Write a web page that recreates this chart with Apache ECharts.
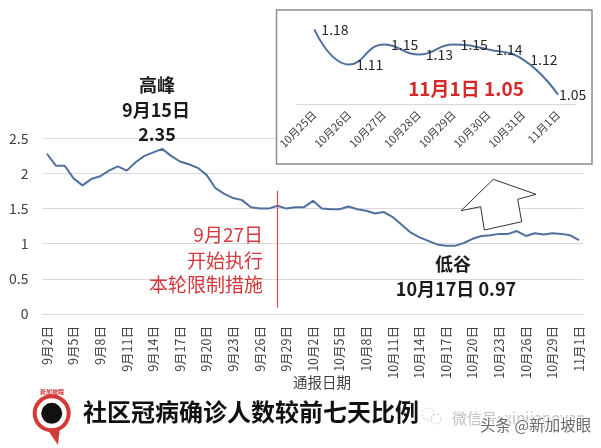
<!DOCTYPE html>
<html><head><meta charset="utf-8">
<script src="https://cdn.jsdelivr.net/npm/echarts/dist/echarts.min.js"></script>
<style>html,body{margin:0;padding:0;background:#fff}#c{width:601px;height:448px}</style>
</head><body><div id="c"></div>
<script>
var categories = ['9月2日','9月3日','9月4日','9月5日','9月6日','9月7日','9月8日','9月9日','9月10日','9月11日','9月12日','9月13日','9月14日','9月15日','9月16日','9月17日','9月18日','9月19日','9月20日','9月21日','9月22日','9月23日','9月24日','9月25日','9月26日','9月27日','9月28日','9月29日','9月30日',
'10月1日','10月2日','10月3日','10月4日','10月5日','10月6日','10月7日','10月8日','10月9日','10月10日','10月11日','10月12日','10月13日','10月14日','10月15日','10月16日','10月17日','10月18日','10月19日','10月20日','10月21日','10月22日','10月23日','10月24日','10月25日','10月26日','10月27日','10月28日','10月29日','10月30日','10月31日','11月1日'];
var ratioValues = [2.28,2.11,2.11,1.93,1.83,1.92,1.96,2.04,2.10,2.04,2.16,2.25,2.30,2.35,2.25,2.17,2.13,2.08,1.98,1.79,1.71,1.65,1.62,1.52,1.50,1.50,1.54,1.50,1.52,
1.52,1.61,1.50,1.49,1.49,1.53,1.49,1.47,1.43,1.45,1.38,1.27,1.16,1.09,1.04,0.99,0.97,0.97,1.01,1.07,1.11,1.12,1.14,1.14,1.18,1.11,1.15,1.13,1.15,1.14,1.12,1.05];
var insetCategories = ['10月25日','10月26日','10月27日','10月28日','10月29日','10月30日','10月31日','11月1日'];
var insetValues = [1.18,1.11,1.15,1.13,1.15,1.14,1.12,1.05];
var yTicks = [0,0.5,1,1.5,2,2.5];

var FONT = '"Noto Sans CJK SC","Noto Sans",sans-serif';
var LINE = '#50709f';
var RED = '#d2373c';

var chart = echarts.init(document.getElementById('c'), null, {renderer:'canvas'});
var insetData = insetValues.map(function(v,i){
  return i === insetValues.length-1 ? {value:v, label:{distance:1}} : v;
});
function txt(x,y,text,size,opts){
  opts = opts || {};
  return {type:'text', x:x, y:y, z:50, silent:true, style:{
    text:text, fontSize:size, fontFamily:FONT, fontWeight:opts.bold?'bold':'normal',
    fill:opts.color||'#1a1a1a', align:opts.align||'center', verticalAlign:'middle',
    stroke:opts.stroke||null, lineWidth:opts.lw||0}};
}
chart.setOption({
  animation:false,
  textStyle:{fontFamily:FONT},
  grid:[
    {left:42.5, right:17.5, top:138.3, bottom:134, outerBoundsMode:'none', containLabel:false},
    {left:296.9, right:25.6, top:19.4, bottom:343.3, outerBoundsMode:'none', containLabel:false, z:10}
  ],
  xAxis:[
    {type:'category', data:categories, boundaryGap:true, gridIndex:0,
     axisLine:{show:true, lineStyle:{color:'#d9d9d9', width:1}}, axisTick:{show:false},
     axisLabel:{interval:2, rotate:90, fontSize:12.5, margin:12, color:'#404040', fontFamily:FONT}},
    {type:'category', data:insetCategories, boundaryGap:true, gridIndex:1, z:10,
     axisLine:{show:true, lineStyle:{color:'#d9d9d9', width:1}}, axisTick:{show:false},
     axisLabel:{interval:0, rotate:45, fontSize:11, margin:8, color:'#404040', fontFamily:FONT}}
  ],
  yAxis:[
    {type:'value', min:yTicks[0], max:yTicks[yTicks.length-1], interval:0.5, gridIndex:0,
     axisLine:{show:false}, axisTick:{show:false},
     splitLine:{show:true, lineStyle:{color:'#d9d9d9', width:1}},
     axisLabel:{fontSize:14, margin:14, color:'#404040', fontFamily:FONT}},
    {type:'value', min:1.03, max:1.20, gridIndex:1, show:false, splitLine:{show:false}}
  ],
  series:[
    {type:'line', data:ratioValues, xAxisIndex:0, yAxisIndex:0, symbol:'none', z:3,
     lineStyle:{color:LINE, width:2}, itemStyle:{color:LINE},
     markLine:{silent:true, symbol:'none', label:{show:false}, z:4,
       lineStyle:{color:'#d9484a', width:1.2, type:'solid', opacity:1},
       data:[[{coord:[25.7,0.09], lineStyle:{color:'#d9484a'}},{coord:[25.7,1.75]}]]}},
    {type:'line', data:insetData, xAxisIndex:1, yAxisIndex:1, smooth:0.5, z:12,
     symbol:'circle', symbolSize:0.1, itemStyle:{color:LINE},
     lineStyle:{color:LINE, width:2},
     label:{show:true, position:'right', distance:7, fontSize:14, color:'#262626', fontFamily:FONT}}
  ],
  graphic:[
    {type:'rect', z:5, silent:true, shape:{x:276.5, y:10, width:315.5, height:154},
     style:{fill:'#fff', stroke:'#8c8c8c', lineWidth:1.5}},
    {type:'polygon', z:6, silent:true,
     shape:{points:[[493.3,179.3],[536,194.3],[517.7,199.3],[521.7,221.7],[484.3,230],[480.7,206.7],[461,210.7]]},
     style:{fill:'#fff', stroke:'#333', lineWidth:1}},
    txt(157,85,'高峰',18,{bold:true}),
    txt(156,110,'9月15日',18,{bold:true}),
    txt(157,134,'2.35',18,{bold:true}),
    txt(263,235,'9月27日',19,{color:RED, align:'right'}),
    txt(263,261,'开始执行',19,{color:RED, align:'right'}),
    txt(263,285,'本轮限制措施',19,{color:RED, align:'right'}),
    txt(453,264,'低谷',18,{bold:true}),
    txt(456,289,'10月17日 0.97',18,{bold:true}),
    txt(466,89,'11月1日 1.05',19,{bold:true, color:'#d42a2a'}),
    txt(322,382,'通报日期',14.5,{color:'#404040'}),
    txt(83,412,'社区冠病确诊人数较前七天比例',24,{bold:true, align:'left', color:'#111'}),
    // logo
    {type:'polygon', z:40, silent:true, shape:{points:[[45,426],[60,426],[58,445]]}, style:{fill:'#d33a36'}},
    {type:'circle', z:41, silent:true, shape:{cx:51.7, cy:413.3, r:19}, style:{fill:'#d33a36'}},
    {type:'circle', z:42, silent:true, shape:{cx:51.7, cy:413.3, r:15}, style:{fill:'#fff'}},
    {type:'circle', z:43, silent:true, shape:{cx:51.7, cy:413.3, r:10.5}, style:{fill:'#111'}},
    txt(52,392,'新加坡眼',6,{color:'#c33', bold:true}),
    // watermark
    {type:'circle', z:40, silent:true, shape:{cx:428, cy:414, r:6}, style:{fill:'none', stroke:'#c8c8c8', lineWidth:1, lineDash:[2,2]}},
    {type:'circle', z:40, silent:true, shape:{cx:436, cy:419, r:5}, style:{fill:'none', stroke:'#c8c8c8', lineWidth:1, lineDash:[2,2]}},
    txt(452,418,'微信号: xinjiapoyan',15,{color:'#c4c4c4', align:'left'}),
    txt(480,425,'头条 @新加坡眼',15.5,{color:'#6a6a6a', align:'left', stroke:'#fff', lw:2})
  ]
});
</script></body></html>
